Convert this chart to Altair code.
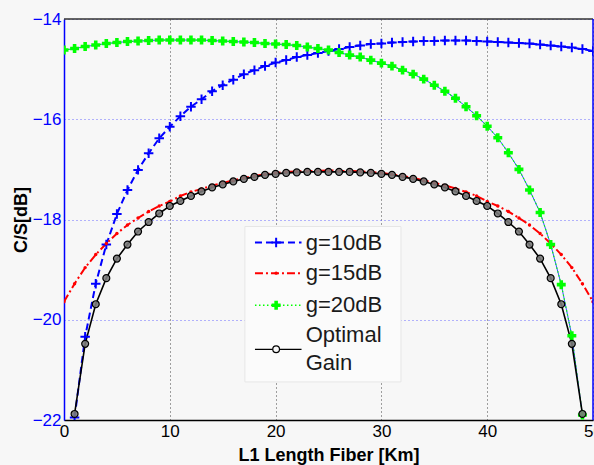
import altair as alt
import pandas as pd

# ---------------- data ----------------
km = list(range(0, 51))

g10 = [None, -21.95, -20.34, -19.28, -18.50, -17.89, -17.41, -17.01, -16.68, -16.38,
       -16.15, -15.94, -15.75, -15.60, -15.44, -15.32, -15.21, -15.10, -15.02, -14.94,
       -14.87, -14.82, -14.76, -14.72, -14.68, -14.64, -14.60, -14.56, -14.53, -14.50,
       -14.49, -14.47, -14.46, -14.45, -14.44, -14.44, -14.43, -14.43, -14.43, -14.44,
       -14.45, -14.46, -14.47, -14.48, -14.49, -14.51, -14.53, -14.55, -14.57, -14.60,
       -14.64]

g15 = [-19.64, -19.28, -18.96, -18.70, -18.48, -18.28, -18.11, -17.97, -17.84, -17.73,
       -17.64, -17.53, -17.45, -17.39, -17.32, -17.27, -17.22, -17.17, -17.13, -17.10,
       -17.07, -17.05, -17.04, -17.03, -17.03, -17.02, -17.03, -17.03, -17.04, -17.05,
       -17.07, -17.10, -17.13, -17.17, -17.22, -17.27, -17.32, -17.38, -17.45, -17.53,
       -17.64, -17.73, -17.84, -17.97, -18.11, -18.28, -18.48, -18.70, -18.96, -19.28,
       -19.64]

g20 = [-14.62, -14.59, -14.55, -14.52, -14.49, -14.47, -14.45, -14.44, -14.43, -14.42,
       -14.42, -14.42, -14.42, -14.42, -14.43, -14.44, -14.45, -14.46, -14.47, -14.49,
       -14.50, -14.51, -14.53, -14.56, -14.59, -14.62, -14.67, -14.72, -14.76, -14.82,
       -14.88, -14.94, -15.02, -15.10, -15.20, -15.32, -15.44, -15.58, -15.75, -15.93,
       -16.14, -16.37, -16.67, -17.00, -17.41, -17.86, -18.50, -19.30, -20.32, -21.90,
       None]

opt = [None, -21.88, -20.48, -19.69, -19.17, -18.78, -18.50, -18.24, -18.05, -17.88,
       -17.73, -17.63, -17.53, -17.44, -17.36, -17.30, -17.24, -17.19, -17.15, -17.11,
       -17.09, -17.07, -17.06, -17.05, -17.05, -17.05, -17.05, -17.05, -17.06, -17.07,
       -17.09, -17.11, -17.15, -17.19, -17.24, -17.30, -17.36, -17.44, -17.53, -17.63,
       -17.73, -17.88, -18.05, -18.24, -18.50, -18.78, -19.17, -19.69, -20.48, -21.88,
       None]

x_ticks = [0, 10, 20, 30, 40, 50]
y_ticks = [-22, -20, -18, -16, -14]
legend_labels = ["g=10dB", "g=15dB", "g=20dB", "Optimal", "Gain"]

FONT = "Liberation Sans"
BLUE = "#0000ff"
RED = "#ff0000"
GREEN = "#00ff00"


def frame(vals):
    pts = [(k, v) for k, v in zip(km, vals) if v is not None]
    return pd.DataFrame({"km": [p[0] for p in pts], "cs": [p[1] for p in pts]})


xscale = alt.Scale(domain=[0, 50], nice=False, zero=False)
yscale = alt.Scale(domain=[-22, -14], nice=False, zero=False)

xaxis = alt.Axis(values=x_ticks, title="L1 Length Fiber [Km]", labelFont=FONT,
                 labelFontSize=17, labelColor="#000000", labelPadding=3,
                 titleFont=FONT, titleFontSize=18, titleFontWeight="bold",
                 titleColor="#000000", titlePadding=7, domainColor="#000000",
                 domainWidth=1.5, ticks=False, grid=True, gridColor="#444444",
                 gridDash=[1, 3], gridWidth=1, labelFlush=False)
yaxis = alt.Axis(values=y_ticks, title="C/S[dB]", labelFont=FONT, labelFontSize=17,
                 labelColor=BLUE, labelPadding=3, titleFont=FONT, titleFontSize=18,
                 titleFontWeight="bold", titleColor="#000000", titlePadding=2,
                 domainColor=BLUE, domainWidth=1.5, ticks=False, grid=True,
                 gridColor="#6a6aff", gridDash=[1, 3], gridWidth=1, labelFlush=False)


def enc(ch):
    return ch.encode(x=alt.X("km:Q", scale=xscale, axis=xaxis),
                     y=alt.Y("cs:Q", scale=yscale, axis=yaxis))


PLUS = "M-1,0L1,0M0,-1L0,1"

d10, d15, d20, dopt = frame(g10), frame(g15), frame(g20), frame(opt)

blue_line = enc(alt.Chart(d10).mark_line(color=BLUE, strokeWidth=2, strokeDash=[7, 4], clip=True))
blue_pts = enc(alt.Chart(d10).mark_point(shape=PLUS, filled=False, stroke=BLUE,
                                         strokeWidth=2, size=90, opacity=1, clip=True))
red_line = enc(alt.Chart(d15).mark_line(color=RED, strokeWidth=2, strokeDash=[8, 3, 2, 3], clip=True))
red_pts = enc(alt.Chart(d15).mark_point(shape="circle", filled=True, color=RED,
                                        size=12, opacity=1, clip=True))
green_line_b = enc(alt.Chart(d20).mark_line(color="#3355ff", strokeWidth=1, clip=True))
green_line = enc(alt.Chart(d20).mark_line(color=GREEN, strokeWidth=1.2, strokeDash=[1.5, 2.5], clip=True))
green_pts = enc(alt.Chart(d20).mark_point(shape="cross", filled=True, color=GREEN,
                                          size=80, opacity=1, clip=True))
opt_line = enc(alt.Chart(dopt).mark_line(color="#000000", strokeWidth=1.6, clip=True))
opt_pts = enc(alt.Chart(dopt).mark_point(shape="circle", filled=True, fill="#7a7a7a",
                                         stroke="#000000", strokeWidth=1.2, size=48,
                                         opacity=1, fillOpacity=0.9, clip=True))

# frame: top (black) and right (blue) axis lines
top_rule = alt.Chart(pd.DataFrame({"a": [0]})).mark_rule(color="#333333", strokeWidth=1.5).encode(
    x=alt.datum(0, scale=xscale), x2=alt.datum(50), y=alt.datum(-14, scale=yscale))
right_rule = alt.Chart(pd.DataFrame({"a": [0]})).mark_rule(color=BLUE, strokeWidth=1.5).encode(
    x=alt.datum(50, scale=xscale), y=alt.datum(-22, scale=yscale), y2=alt.datum(-14))

# ---------------- legend (placed in data coordinates) ----------------
LX0, LX1, LXM, LXT = 18.05, 22.45, 20.05, 22.85
LY = [-18.46, -19.07, -19.71, -20.59]
box = alt.Chart(pd.DataFrame({"a": [0]})).mark_rect(fill="#fbfbfb", stroke="#e6e6e6",
                                                    strokeWidth=1).encode(
    x=alt.datum(17.1, scale=xscale), x2=alt.datum(31.85),
    y=alt.datum(-18.14, scale=yscale), y2=alt.datum(-21.24))


def seg(yv, **kw):
    return alt.Chart(pd.DataFrame({"a": [0]})).mark_rule(**kw).encode(
        x=alt.datum(LX0, scale=xscale), x2=alt.datum(LX1), y=alt.datum(yv, scale=yscale))


def sym(yv, **kw):
    return alt.Chart(pd.DataFrame({"a": [0]})).mark_point(opacity=1, **kw).encode(
        x=alt.datum(LXM, scale=xscale), y=alt.datum(yv, scale=yscale))


leg_layers = [
    box,
    seg(LY[0], color=BLUE, strokeWidth=2, strokeDash=[7, 4]),
    sym(LY[0], shape=PLUS, filled=False, stroke=BLUE, strokeWidth=2, size=90),
    seg(LY[1], color=RED, strokeWidth=2, strokeDash=[8, 3, 2, 3]),
    sym(LY[1], shape="circle", filled=True, color=RED, size=12),
    seg(LY[2], color=GREEN, strokeWidth=1.5, strokeDash=[1.5, 2.5]),
    sym(LY[2], shape="cross", filled=True, color=GREEN, size=80),
    seg(LY[3], color="#000000", strokeWidth=1.2),
    sym(LY[3], shape="circle", filled=True, fill="#f7f7f7", stroke="#000000",
        strokeWidth=1.2, size=45),
]
text_y = [LY[0], LY[1], LY[2], -20.30, -20.86]
leg_text = alt.Chart(pd.DataFrame({"label": legend_labels, "ty": text_y})).mark_text(
    align="left", baseline="middle", font=FONT, fontSize=22, color="#1a1a1a").encode(
    x=alt.datum(LXT, scale=xscale), y=alt.Y("ty:Q", scale=yscale, axis=yaxis), text="label:N")

chart = alt.layer(
    green_line_b, green_line, blue_line, red_line, opt_line,
    blue_pts, red_pts, green_pts, opt_pts,
    top_rule, right_rule,
    *leg_layers, leg_text,
).properties(
    width=529, height=401,
    autosize=alt.AutoSizeParams(type="none"),
    padding={"left": 64, "top": 19, "right": 1, "bottom": 45},
).configure(background="#f7f7f7").configure_view(stroke=None, fill="#f7f7f7")

chart.save("out.html", embed_options={"renderer": "svg", "actions": False})
